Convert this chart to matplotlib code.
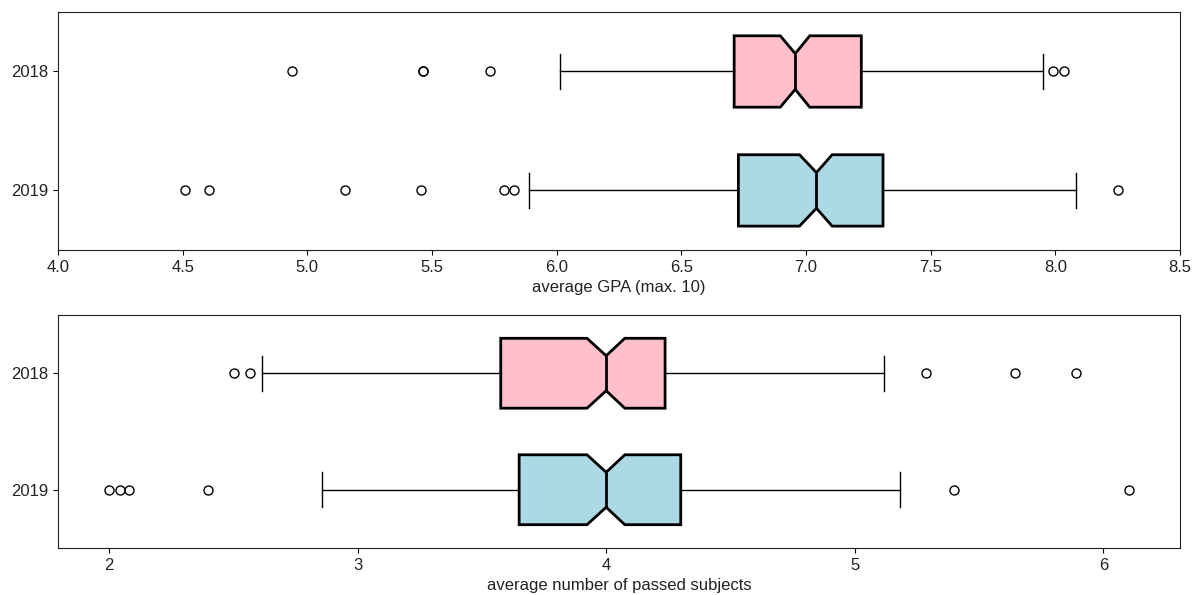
import numpy as np
import matplotlib
matplotlib.use("Agg")
import matplotlib.pyplot as plt

plt.rcParams["font.family"] = ["Liberation Sans", "DejaVu Sans"]

# ---------------------------------------------------------------------------
# Data
# ---------------------------------------------------------------------------
YEARS = ["2019", "2018"]          # bottom -> top
COLORS = ["lightblue", "pink"]

# average GPA
gpa_q1 = [6.729, 6.712]
gpa_med = [7.042, 6.957]
gpa_q3 = [7.309, 7.222]
gpa_lo = [5.891, 6.014]
gpa_hi = [8.085, 7.952]
gpa_cilo = [6.974, 6.897]
gpa_cihi = [7.105, 7.015]
gpa_fliers = [
    [4.508, 4.606, 5.153, 5.456, 5.787, 5.830, 8.251],
    [4.939, 5.464, 5.466, 5.732, 7.992, 8.035],
]

# average number of passed subjects
subj_q1 = [3.650, 3.576]
subj_med = [4.000, 4.000]
subj_q3 = [4.300, 4.237]
subj_lo = [2.855, 2.616]
subj_hi = [5.183, 5.118]
subj_cilo = [3.923, 3.923]
subj_cihi = [4.075, 4.075]
subj_fliers = [
    [2.000, 2.045, 2.079, 2.397, 5.400, 6.103],
    [2.503, 2.568, 5.285, 5.645, 5.888],
]


def make_stats(q1, med, q3, lo, hi, cilo, cihi, fliers):
    stats = []
    for i in range(len(YEARS)):
        stats.append(dict(label=YEARS[i], q1=q1[i], med=med[i], q3=q3[i],
                          whislo=lo[i], whishi=hi[i], cilo=cilo[i],
                          cihi=cihi[i], fliers=np.array(fliers[i])))
    return stats


def draw(ax, stats, xlabel):
    bp = ax.bxp(stats, orientation="horizontal", shownotches=True,
                patch_artist=True, widths=0.6,
                boxprops=dict(linewidth=2, edgecolor="black"),
                medianprops=dict(color="black", linewidth=2),
                whiskerprops=dict(color="black", linewidth=1),
                capprops=dict(color="black", linewidth=1),
                flierprops=dict(marker="o", markerfacecolor="none",
                                markeredgecolor="black", markersize=6.5))
    for patch, c in zip(bp["boxes"], COLORS):
        patch.set_facecolor(c)
    ax.set_xlabel(xlabel, fontsize=12, color="#222222")
    ax.tick_params(labelsize=12, labelcolor="#222222")
    for sp in ax.spines.values():
        sp.set_color("#222222")


fig = plt.figure(figsize=(12, 5.95), dpi=100)
ax1 = fig.add_axes([0.0483, 0.580, 0.935, 0.3998])
ax2 = fig.add_axes([0.0483, 0.079, 0.935, 0.3916])

draw(ax1, make_stats(gpa_q1, gpa_med, gpa_q3, gpa_lo, gpa_hi,
                     gpa_cilo, gpa_cihi, gpa_fliers), "average GPA (max. 10)")
ax1.set_xlim(4.0, 8.5)

draw(ax2, make_stats(subj_q1, subj_med, subj_q3, subj_lo, subj_hi,
                     subj_cilo, subj_cihi, subj_fliers),
     "average number of passed subjects")
ax2.set_xticks([2, 3, 4, 5, 6])

fig.savefig("out.png", dpi=100)
